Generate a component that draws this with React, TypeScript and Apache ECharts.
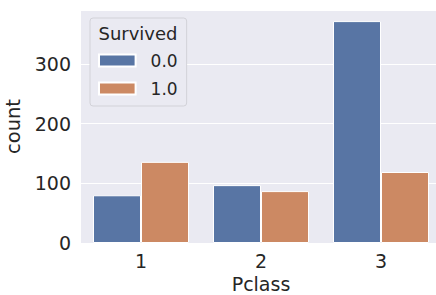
import React, { useEffect, useRef } from "react";
import * as echarts from "echarts";

const categories = ["1", "2", "3"];
const survived0 = [80, 97, 372];
const survived1 = [136, 87, 119];
const seriesNames = ["0.0", "1.0"];
const yTicks = [0, 100, 200, 300];

export default function App() {
  const ref = useRef<HTMLDivElement>(null);
  useEffect(() => {
    if (!ref.current) return;
    const chart = echarts.init(ref.current, undefined, { renderer: "svg" });
    const font = "DejaVu Sans";
    const txt = "#262626";
    chart.setOption({
      animation: false,
      backgroundColor: "#ffffff",
      textStyle: { fontFamily: font },
      grid: {
        left: 81,
        top: 10,
        width: 360,
        bottom: 52,
        show: true,
        containLabel: false,
        outerBoundsMode: "none",
        backgroundColor: "#eaeaf2",
        borderWidth: 0,
      },
      xAxis: {
        type: "category",
        data: categories,
        name: "Pclass",
        nameLocation: "middle",
        nameGap: 27.5,
        nameTextStyle: { fontSize: 19, color: txt, fontFamily: font, lineHeight: 19 },
        axisLine: { show: false },
        axisTick: { show: false },
        axisLabel: { fontSize: 19, color: txt, margin: 8, fontFamily: font },
        splitLine: { show: false },
      },
      yAxis: {
        type: "value",
        min: 0,
        max: 390.6,
        interval: 100,
        name: "count",
        nameLocation: "middle",
        nameGap: 49.5,
        nameTextStyle: { fontSize: 19.5, color: txt, fontFamily: font },
        axisLine: { show: false },
        axisTick: { show: false },
        axisLabel: {
          fontSize: 19,
          color: txt,
          margin: 10,
          fontFamily: font,
          padding: [3, 0, 0, 0],
          showMaxLabel: false,
          formatter: (v: number) => (yTicks.includes(v) ? String(v) : ""),
        },
        splitLine: { show: true, lineStyle: { color: "#ffffff", width: 1.2 } },
      },
      legend: {
        orient: "vertical",
        left: 90,
        top: 18,
        padding: [34, 9, 9, 8],
        itemWidth: 36.6,
        itemHeight: 12,
        itemGap: 11,
        icon: "rect",
        backgroundColor: "#eaeaf2",
        borderColor: "#d2d2d8",
        borderWidth: 1,
        borderRadius: 3,
        textStyle: {
          fontSize: 17,
          color: txt,
          fontFamily: font,
          lineHeight: 17,
          padding: [0, 0, 0, 10],
        },
        data: seriesNames,
      },
      graphic: [
        {
          type: "text",
          x: 138,
          y: 33.5,
          z: 100,
          style: {
            text: "Survived",
            fontSize: 18,
            fontFamily: font,
            fill: txt,
            textAlign: "center",
            textVerticalAlign: "middle",
          },
        },
      ],
      series: [
        {
          name: seriesNames[0],
          type: "bar",
          data: survived0,
          barWidth: 48,
          barGap: "0%",
          itemStyle: { color: "#5875a4", borderColor: "#ffffff", borderWidth: 1 },
        },
        {
          name: seriesNames[1],
          type: "bar",
          data: survived1,
          barWidth: 48,
          barGap: "0%",
          itemStyle: { color: "#cc8963", borderColor: "#ffffff", borderWidth: 1 },
        },
      ],
    });
    return () => chart.dispose();
  }, []);
  return (
    <div
      ref={ref}
      style={{ position: "fixed", left: 0, top: 0, width: 436, height: 295 }}
    />
  );
}
